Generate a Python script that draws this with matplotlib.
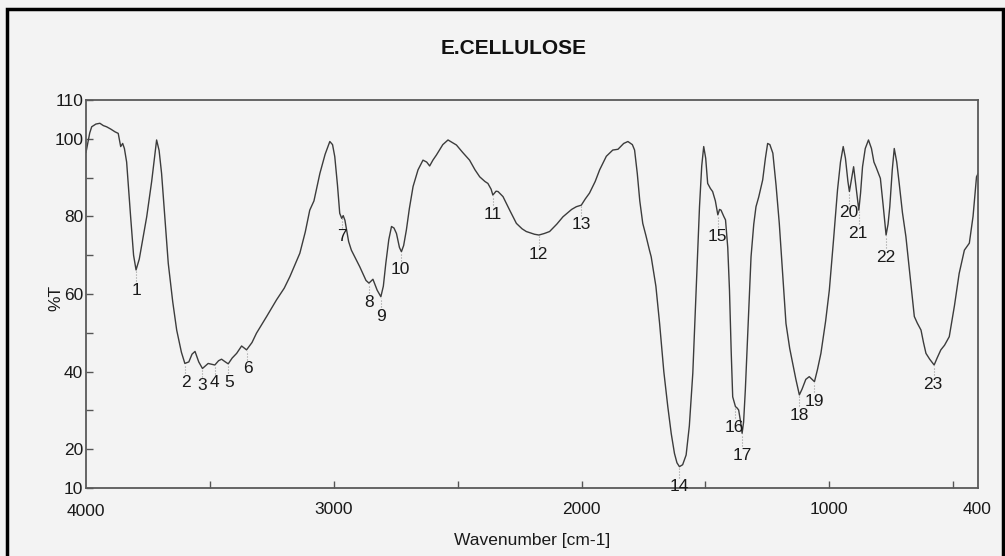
import matplotlib
matplotlib.use('Agg')
from matplotlib import pyplot as plt
from matplotlib.patches import Rectangle
import numpy as np

# spectrum (wavenumber cm-1, %T)
wn = [4000, 3985, 3977, 3960, 3944, 3930, 3917, 3900, 3883, 3870, 3860, 3852, 3845, 3836,
      3820, 3808, 3798, 3785, 3770, 3755, 3735, 3715, 3705, 3695, 3668, 3650, 3634, 3615,
      3601, 3585, 3572, 3560, 3545, 3530, 3507, 3480, 3465, 3453, 3440, 3426, 3410, 3392,
      3372, 3352, 3330, 3312, 3271, 3231, 3200, 3177, 3137, 3115, 3097, 3080, 3056, 3035,
      3016, 3005, 2996, 2985, 2976, 2968, 2962, 2955, 2940, 2929, 2895, 2870, 2858, 2842,
      2825, 2810, 2800, 2790, 2778, 2767, 2757, 2747, 2735, 2727, 2718, 2707, 2695, 2680,
      2660, 2640, 2625, 2613, 2600, 2586, 2560, 2539, 2505, 2480, 2452, 2430, 2411, 2390,
      2378, 2365, 2358, 2345, 2337, 2317, 2290, 2263, 2240, 2223, 2190, 2172, 2150, 2129,
      2100, 2075, 2040, 2021, 2001, 1985, 1968, 1945, 1927, 1900, 1874, 1853, 1830, 1813,
      1795, 1786, 1775, 1765, 1753, 1740, 1726, 1719, 1700, 1685, 1668, 1652, 1638, 1625,
      1615, 1605, 1592, 1578, 1565, 1551, 1537, 1524, 1515, 1507, 1499, 1491, 1480, 1471,
      1460, 1450, 1443, 1437, 1426, 1419, 1410, 1403, 1396, 1390, 1379, 1372, 1366, 1358,
      1352, 1346, 1339, 1328, 1316, 1305, 1296, 1285, 1269, 1258, 1249, 1240, 1228, 1215,
      1202, 1188, 1175, 1160, 1148, 1135, 1121, 1110, 1095, 1081, 1070, 1060, 1048, 1034,
      1015, 1000, 983, 967, 955, 944, 935, 925, 919, 912, 902, 893, 881, 874, 866, 855, 842,
      830, 820, 812, 794, 783, 771, 763, 756, 746, 738, 728, 718, 705, 691, 675, 657, 645,
      630, 620, 610, 595, 577, 565, 550, 535, 516, 495, 476, 455, 435, 420, 406, 400]
T = [96.5, 101.5, 103.1, 103.8, 104.0, 103.4, 103.1, 102.5, 101.8, 101.4, 98.0, 98.8, 97.5, 94.0,
     80.0, 70.0, 66.2, 69.0, 74.5, 79.9, 89.0, 99.7, 97.0, 91.1, 67.9, 58.0, 50.7, 45.0,
     42.1, 42.5, 44.5, 45.2, 42.5, 40.8, 42.1, 41.7, 42.8, 43.2, 42.6, 42.0, 43.5, 44.7,
     46.6, 45.6, 47.5, 49.9, 54.2, 58.5, 61.5, 64.5, 70.5, 76.0, 81.6, 84.0, 91.1, 96.0,
     99.3, 98.5, 95.4, 88.0, 80.8, 79.5, 80.2, 79.0, 73.5, 71.3, 67.0, 63.5, 62.8, 63.8,
     61.0, 59.3, 62.0, 67.9, 74.0, 77.4, 77.0, 75.6, 72.0, 70.9, 72.5, 76.5, 82.0, 87.7,
     92.0, 94.5, 94.0, 93.0, 94.5, 95.8, 98.5, 99.7, 98.4, 96.5, 94.5, 92.0, 90.2, 89.0,
     88.5, 87.0, 85.5, 86.5, 86.4, 85.1, 81.6, 78.2, 76.8, 76.1, 75.4, 75.2, 75.6, 76.1,
     78.0, 79.9, 81.8, 82.5, 82.9, 84.5, 86.0, 89.0, 92.0, 95.5, 97.1, 97.3, 98.8, 99.3,
     98.5, 97.1, 91.0, 84.0, 78.2, 75.0, 71.3, 69.6, 62.0, 52.4, 40.0, 31.0, 24.0, 18.9,
     16.5, 15.5, 16.0, 18.5, 26.0, 39.6, 62.0, 82.5, 93.0, 98.0, 95.0, 88.5, 87.2, 86.4,
     84.0, 80.4, 81.8, 81.6, 80.0, 79.1, 72.0, 61.0, 45.0, 33.5, 31.0, 30.6, 30.1, 27.0,
     24.1, 27.0, 35.3, 52.0, 69.6, 78.0, 82.5, 85.0, 89.4, 95.0, 98.8, 98.5, 96.3, 88.0,
     78.2, 65.0, 52.4, 46.0, 42.1, 38.0, 34.0, 35.5, 38.0, 38.7, 38.0, 37.4, 40.5, 44.7,
     53.0, 61.0, 74.0, 86.8, 94.0, 98.0, 95.0, 89.0, 86.4, 89.0, 92.8, 88.0, 81.6, 86.0, 92.8, 97.5, 99.7,
     97.5, 94.0, 92.8, 89.8, 83.0, 75.2, 78.0, 82.5, 92.0, 97.5, 94.0, 88.5, 81.0, 74.8, 65.0, 54.2, 52.5,
     50.7, 47.5, 44.7, 43.2, 41.7, 43.5, 45.6, 46.8, 49.0, 57.0, 65.3, 71.3, 73.1, 80.0, 90.2, 91.0]

# numbered peaks: position, %T at the peak, where the number sits
peak_wn = [3798, 3601, 3530, 3480, 3426, 3352, 2966, 2858, 2810, 2727, 2358, 2172,
           2001, 1605, 1450, 1379, 1352, 1121, 1060, 919, 881, 771, 577]
peak_T = [66.2, 42.1, 40.8, 41.7, 42.0, 45.6, 80.0, 62.8, 59.3, 70.9, 85.5, 75.2,
          82.9, 15.5, 80.4, 31.0, 24.1, 34.0, 37.4, 86.4, 81.6, 75.2, 41.7]
label_wn = [3798, 3597, 3532, 3480, 3423, 3347, 2968, 2859, 2810, 2730, 2359, 2173,
            2000, 1605, 1452, 1383, 1351, 1121, 1060, 923, 887, 774, 581]
label_T = [61.0, 37.3, 36.3, 37.1, 37.3, 40.7, 74.7, 57.9, 54.3, 66.2, 80.6, 70.1,
           77.8, 10.3, 74.9, 25.7, 18.5, 28.8, 32.4, 80.9, 75.7, 69.5, 36.8]

plt.rcParams['font.family'] = ['Liberation Sans Narrow', 'Liberation Sans', 'DejaVu Sans']
paper = '#f3f3f3'

fig = plt.figure(figsize=(10.05, 5.56), dpi=100, facecolor=paper)
ax = fig.add_axes([86/1005, 1-488/556, (978-86)/1005, (488-100)/556])
ax.set_facecolor(paper)

ax.plot(wn, T, color='#3c3c3c', lw=1.0)

for i in range(len(peak_wn)):
    ax.vlines(peak_wn[i], label_T[i] + 2.3, peak_T[i] - 0.3, colors='#9a9a9a',
              linestyles=':', lw=0.8)
    ax.text(label_wn[i], label_T[i], str(i + 1), ha='center', va='center',
            fontsize=12.5, color='#1a1a1a', clip_on=False)

ax.set_xlim(4000, 400)
ax.set_ylim(10, 110)
ax.set_xticks(np.arange(3500, 400, -500))
ax.set_xticklabels(['', '3000', '', '2000', '', '1000', ''])
ax.set_yticks(np.arange(10, 111, 10))
ax.set_yticklabels(['10', '20', '', '40', '', '60', '', '80', '', '100', '110'])
ax.tick_params(direction='in', length=5, width=1, color='#555555', labelsize=12.5,
               labelcolor='#1a1a1a', pad=10)
ax.tick_params(axis='y', pad=2)
for s in ax.spines.values():
    s.set_color('#5a5a5a')
    s.set_linewidth(1.3)

# end labels of the wavenumber axis
fig.text(86/1005, 1-512/556, '4000', ha='center', va='center', fontsize=12.5, color='#1a1a1a')
fig.text(977/1005, 1-510/556, '400', ha='center', va='center', fontsize=12.5, color='#1a1a1a')

fig.text(514/1005, 1-48/556, 'E.CELLULOSE', ha='center', va='center', fontsize=15,
         fontweight='bold', color='#111111')
fig.text(532/1005, 1-541/556, 'Wavenumber [cm-1]', ha='center', va='center',
         fontsize=12.5, color='#1a1a1a')
fig.text(56/1005, 1-298/556, '%T', ha='center', va='center', rotation=90,
         fontsize=12.5, color='#1a1a1a')

# scan border
fig.patches.append(Rectangle((7/1005, -0.05), (1003-7)/1005, 1.05-9/556,
                             transform=fig.transFigure, fill=False, ec='black', lw=2.5))

fig.savefig('out.png', dpi=100, facecolor=paper)
